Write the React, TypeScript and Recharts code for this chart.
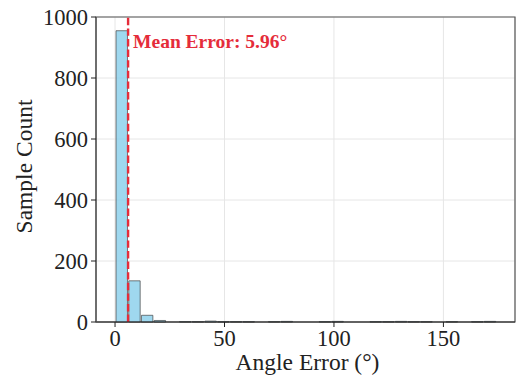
import { ComposedChart, Bar, XAxis, YAxis, CartesianGrid, ReferenceLine, ReferenceArea } from 'recharts'

// histogram of angle errors: 30 equal bins from 0 to ~174 deg
const binCounts = [955, 135, 22, 5, 0, 1, 1, 3, 1, 1, 1, 0, 1, 2, 0, 0, 1, 2, 0, 0, 1, 1, 2, 1, 1, 0, 1, 0, 1, 2]
const maxError = 174
const binWidth = maxError / binCounts.length
const xTicks = [0, 50, 100, 150]
const yTicks = [0, 200, 400, 600, 800, 1000]
const xDomain = [-8.7, 182.7]
const meanError = 5.96

const data = binCounts.map((c, i) => ({ mid: (i + 0.5) * binWidth, count: c }))

const W = 517, H = 379
const M = { top: 17, right: 2, bottom: 0, left: 0 }
const yAxisW = 96
const xAxisH = 57
const font = '"Liberation Serif", "Times New Roman", serif'
const ink = '#222'
const red = '#e52c3a'

const plotW = W - M.left - M.right - yAxisW
const barPx = plotW * binWidth / (xDomain[1] - xDomain[0])

const YLabel = ({ viewBox }: any) => {
  const cx = viewBox.x + 24
  const cy = viewBox.y + viewBox.height / 2 - 3
  return (
    <text x={cx} y={cy} transform={`rotate(-90 ${cx} ${cy})`} textAnchor="middle" dominantBaseline="central"
      fontFamily={font} fontSize={23.5} fill={ink}>Sample Count</text>
  )
}

const XLabel = ({ viewBox }: any) => (
  <text x={viewBox.x + viewBox.width / 2 + 2} y={viewBox.y + 48} textAnchor="middle"
    fontFamily={font} fontSize={23.5} fill={ink}>Angle Error (°)</text>
)

const MeanLabel = ({ viewBox }: any) => (
  <text x={viewBox.x + 5} y={viewBox.y + 31} fontFamily={font} fontSize={19.5} fontWeight="bold" fill={red}>
    {`Mean Error: ${meanError}°`}
  </text>
)

export default function App() {
  return (
    <div style={{ position: 'absolute', left: 0, top: 0, width: W, height: H, background: '#fff' }}>
      <ComposedChart width={W} height={H} data={data} margin={M} barCategoryGap={0} barGap={0}>
        <CartesianGrid stroke="#e6e6e6" strokeWidth={1} />
        <XAxis dataKey="mid" type="number" domain={xDomain} ticks={xTicks} allowDataOverflow
          height={xAxisH} tickSize={5} tickMargin={3} interval={0}
          tick={{ fontFamily: font, fontSize: 22.5, fill: ink }}
          axisLine={{ stroke: ink, strokeWidth: 1.2 }} tickLine={{ stroke: ink }}
          label={<XLabel />} />
        <YAxis type="number" domain={[0, 1000]} ticks={yTicks} width={yAxisW} tickSize={5} tickMargin={3}
          tick={{ fontFamily: font, fontSize: 22.5, fill: ink }} interval={0}
          axisLine={{ stroke: '#555', strokeWidth: 1.2 }} tickLine={{ stroke: ink }}
          label={<YLabel />} />
        <ReferenceArea x1={xDomain[0]} x2={xDomain[1]} y1={0} y2={1000}
          fill="none" stroke="#555" strokeWidth={1.2} />
        <Bar dataKey="count" barSize={barPx} fill="#87ceeb" fillOpacity={0.8}
          stroke="#444" strokeOpacity={0.7} strokeWidth={1} isAnimationActive={false} />
        <ReferenceLine x={meanError} stroke={red} strokeWidth={2.4} strokeDasharray="7.4 3.2"
          label={<MeanLabel />} />
      </ComposedChart>
    </div>
  )
}
